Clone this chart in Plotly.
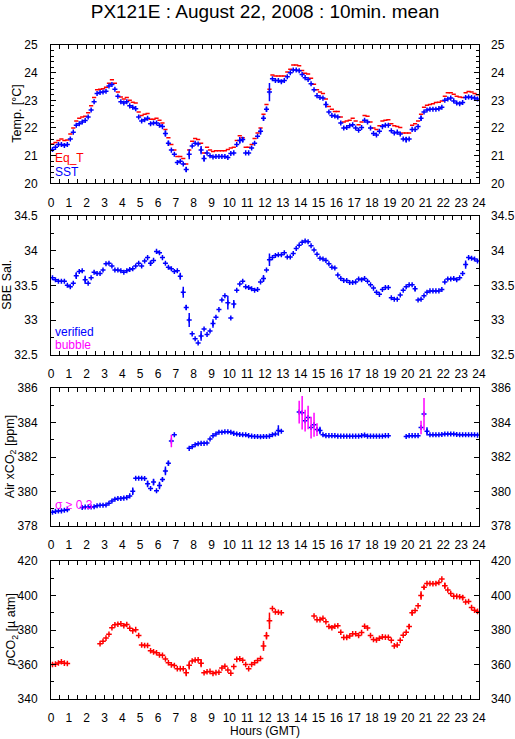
import numpy as np
import plotly.graph_objects as go

# 10-minute slots, 00:00 -> 24:00 GMT (centre of each slot)
hours = np.arange(144) / 6 + 1 / 12

# --- Temperature [degC], 6 values per hour ---
sst = [
    21.22, 21.30, 21.40, 21.40, 21.37, 21.40,
    21.60, 21.85, 22.10, 22.15, 22.22, 22.27,
    22.40, 22.65, 22.95, 23.25, 23.28, 23.30,
    23.33, 23.52, 23.57, 23.40, 23.15, 22.95,
    22.90, 22.95, 22.80, 22.75, 22.70, 22.40,
    22.25, 22.30, 22.35, 22.15, 22.18, 22.18,
    22.10, 22.05, 21.80, 21.45, 21.20, 21.05,
    20.75, 20.80, 20.70, 20.50, 21.05, 21.35,
    21.45, 21.42, 21.20, 20.90, 21.10, 21.00,
    20.95, 20.97, 20.97, 20.97, 20.97, 20.93,
    21.08, 21.10, 21.40, 21.55, 21.58, 21.10,
    21.10, 21.28, 21.45, 21.70, 21.88, 22.35,
    22.68, 23.30, 23.78, 23.72, 23.72, 23.67,
    23.72, 23.85, 24.00, 24.10, 24.10, 24.07,
    23.93, 23.82, 23.75, 23.60, 23.38, 23.17,
    23.10, 23.08, 22.85, 22.58, 22.45, 22.43,
    22.40, 22.18, 22.00, 22.02, 22.08, 22.12,
    22.00, 21.92, 22.02, 22.28, 22.22, 22.00,
    21.80, 21.75, 21.88, 22.05, 22.10, 22.10,
    21.90, 21.82, 21.85, 21.78, 21.60, 21.58,
    21.60, 21.95, 21.95, 22.05, 22.35, 22.58,
    22.65, 22.68, 22.68, 22.68, 22.70, 22.75,
    23.00, 23.05, 23.08, 22.98, 22.90, 22.88,
    22.92, 23.10, 23.12, 23.10, 23.08, 23.05,
]
eq_t = [
    21.42, 21.48, 21.55, 21.60, 21.55, 21.57,
    21.78, 22.00, 22.25, 22.35, 22.40, 22.42,
    22.55, 22.80, 23.10, 23.38, 23.40, 23.42,
    23.47, 23.62, 23.74, 23.62, 23.30, 23.12,
    23.05, 23.10, 23.00, 22.93, 22.90, 22.58,
    22.45, 22.50, 22.52, 22.32, 22.32, 22.35,
    22.28, 22.18, 21.95, 21.65, 21.40, 21.20,
    20.97, 20.97, 20.90, 20.70, 21.20, 21.52,
    21.62, 21.58, 21.45, 21.10, 21.30, 21.20,
    21.15, 21.18, 21.18, 21.18, 21.18, 21.22,
    21.28, 21.30, 21.55, 21.72, 21.65, 21.30,
    21.30, 21.40, 21.62, 21.82, 22.00, 22.50,
    22.85, 23.40, 23.92, 23.88, 23.88, 23.88,
    23.88, 24.02, 24.12, 24.28, 24.28, 24.25,
    24.08, 23.98, 23.95, 23.80, 23.58, 23.38,
    23.30, 23.25, 23.05, 22.78, 22.68, 22.60,
    22.60, 22.40, 22.22, 22.25, 22.28, 22.35,
    22.25, 22.12, 22.22, 22.45, 22.42, 22.22,
    22.00, 21.95, 22.08, 22.25, 22.28, 22.30,
    22.15, 22.08, 22.05, 22.02, 21.82, 21.82,
    21.82, 22.10, 22.15, 22.25, 22.50, 22.75,
    22.82, 22.85, 22.88, 22.92, 22.93, 22.98,
    23.15, 23.27, 23.27, 23.22, 23.15, 23.12,
    23.10, 23.27, 23.32, 23.30, 23.25, 23.20,
]
sst_err_slot = [38, 39, 45, 46, 50, 51, 63, 64, 70, 71, 72, 73, 92, 119, 124]
sst_err_val = [0.12, 0.10, 0.10, 0.18, 0.15, 0.12, 0.12, 0.10, 0.12, 0.10, 0.10, 0.33, 0.12, 0.10, 0.10]

# --- SBE salinity ---
sal = [
    33.61, 33.58, 33.56, 33.56, 33.56, 33.50,
    33.48, 33.53, 33.64, 33.70, 33.71, 33.58,
    33.53, 33.61, 33.69, 33.67, 33.67, 33.72,
    33.81, 33.82, 33.78, 33.72, 33.72, 33.71,
    33.69, 33.71, 33.73, 33.74, 33.78, 33.82,
    33.78, 33.85, 33.90, 33.82, 33.86, 33.99,
    33.97, 33.90, 33.82, 33.76, 33.74, 33.70,
    33.71, 33.63, 33.40, 33.18, 33.00, 32.80,
    32.73, 32.67, 32.77, 32.87, 32.79, 32.84,
    32.95, 33.04, 33.15, 33.29, 33.35, 33.25,
    33.03, 33.23, 33.43, 33.52, 33.56, 33.48,
    33.47, 33.45, 33.43, 33.44, 33.55, 33.60,
    33.72, 33.87, 33.90, 33.93, 33.94, 33.94,
    33.97, 33.91, 33.91, 33.96, 34.03, 34.08,
    34.12, 34.14, 34.13, 34.07, 34.01, 33.95,
    33.89, 33.88, 33.86, 33.81, 33.76, 33.75,
    33.65, 33.60, 33.57, 33.57, 33.54, 33.54,
    33.55, 33.59, 33.58, 33.60, 33.56, 33.51,
    33.46, 33.40, 33.37, 33.44, 33.47, 33.47,
    33.32, 33.30, 33.30, 33.36, 33.43, 33.48,
    33.51, 33.51, 33.45, 33.29, 33.30, 33.35,
    33.40, 33.42, 33.42, 33.42, 33.42, 33.44,
    33.55, 33.59, 33.59, 33.60, 33.58, 33.61,
    33.67, 33.80, 33.90, 33.89, 33.88, 33.85,
]
sal_err_slot = [8, 11, 33, 43, 44, 45, 46, 50, 54, 59, 61, 71, 73, 122, 139]
sal_err_val = [0.05, 0.06, 0.04, 0.05, 0.08, 0.04, 0.10, 0.07, 0.06, 0.10, 0.06, 0.05, 0.09, 0.04, 0.06]

# --- Air xCO2 [ppm] ---
N = None
xco2 = [
    378.80, 378.85, 378.87, 378.88, 378.92, 378.95,
    N, N, N, N, 379.08, 379.10,
    379.10, 379.10, 379.12, 379.18, 379.20, 379.20,
    379.22, 379.32, 379.45, 379.55, 379.60, 379.60,
    379.62, 379.65, 379.75, 380.02, 380.78, 380.78,
    380.78, 380.76, 380.45, 380.18, 380.55, 380.05,
    380.35, 380.70, 381.20, 381.65, 382.94, 383.30,
    N, N, N, N, 382.51, 382.60,
    382.72, 382.78, 382.80, 382.80, 382.82, 383.05,
    383.25, 383.35, 383.45, 383.45, 383.47, 383.47,
    383.45, 383.38, 383.35, 383.32, 383.30, 383.30,
    383.25, 383.22, 383.20, 383.20, 383.18, 383.20,
    383.20, 383.22, 383.30, 383.35, 383.55, 383.50,
    N, N, N, N, N, 384.62,
    384.58, 384.12, 384.30, 383.72, 383.88, 383.60,
    383.55, 383.30, 383.25, 383.25, 383.25, 383.25,
    383.22, 383.22, 383.22, 383.22, 383.22, 383.22,
    383.22, 383.22, 383.25, 383.28, 383.22, 383.22,
    383.22, 383.22, 383.22, 383.22, 383.25, 383.25,
    N, N, N, N, N, 383.20,
    383.25, 383.25, 383.25, 383.25, 383.72, 384.50,
    383.50, 383.30, 383.30, 383.30, 383.30, 383.32,
    383.35, 383.35, 383.35, 383.35, 383.32, 383.30,
    383.30, 383.30, 383.30, 383.30, 383.30, 383.28,
]
xco2_err_slot = [27, 32, 34, 36, 37, 38, 39, 76, 90, 126]
xco2_err_val = [0.22, 0.20, 0.20, 0.22, 0.10, 0.25, 0.15, 0.30, 0.22, 0.24]
# sigma >= 0.3 (drawn in magenta)
xco2_flag_slot = [40, 83, 84, 85, 86, 87, 88, 89, 124, 125]
xco2_flag_val = [0.36, 0.66, 0.97, 0.63, 0.68, 0.63, 0.70, 0.37, 0.39, 0.94]

# --- pCO2 [uatm] ---
pco2 = [
    360.0, 360.2, 360.9, 361.6, 360.8, 360.6,
    N, N, N, N, N, N,
    N, N, N, N, 372.1, 373.5,
    375.3, 377.5, 381.3, 383.0, 383.3, 383.6,
    382.5, 383.2, 381.0, 379.5, 380.2, 376.8,
    371.3, 371.0, 371.0, 368.0, 367.3, 366.8,
    365.5, 365.3, 363.2, 361.0, 359.8, 359.4,
    357.5, 357.6, 357.5, 355.2, 359.5, 362.0,
    362.6, 362.7, 360.8, 355.2, 355.8, 356.0,
    354.8, 355.3, 355.5, 358.0, 359.0, 356.8,
    355.0, 358.8, 363.0, 363.3, 362.5, 360.0,
    357.5, 360.0, 361.0, 362.3, 363.5, 370.8,
    376.7, 385.3, 392.5, 390.5, 390.3, 390.0,
    N, N, N, N, N, N,
    N, N, N, N, 388.1, 386.0,
    386.0, 386.8, 384.8, 382.0, 381.3, 382.2,
    382.5, 378.7, 375.7, 375.7, 376.5, 377.8,
    377.8, 376.8, 378.5, 382.2, 381.2, 376.8,
    374.5, 374.2, 375.2, 376.0, 375.8, 375.8,
    374.0, 370.8, 371.3, 374.0, 377.0, 378.7,
    382.0, 390.0, 391.3, 394.0, 400.0, 404.8,
    407.0, 407.0, 406.8, 407.0, 407.5, 409.5,
    405.7, 403.2, 401.2, 399.5, 399.5, 399.3,
    398.8, 396.2, 396.5, 393.0, 391.5, 390.8,
]
pco2_err_slot = [45, 46, 50, 71, 72, 73, 120, 121, 124, 125, 132, 138]
pco2_err_val = [2.0, 2.4, 2.4, 2.9, 2.2, 4.8, 1.5, 1.8, 2.5, 1.0, 1.8, 1.5]

x_ticks = list(range(0, 25))
y_ticks = [
    [20, 21, 22, 23, 24, 25],
    [32.5, 33, 33.5, 34, 34.5],
    [378, 380, 382, 384, 386],
    [340, 360, 380, 400, 420],
]
y_ticktext = [[f"{v:g}" for v in vals] for vals in y_ticks]

BLUE = "#0000ff"
RED = "#ff0000"
MAG = "#ff00ff"
FONT = "Liberation Sans, Arial, sans-serif"


def err_array(slots, vals):
    arr = np.zeros(144)
    arr[slots] = vals
    return arr


def cross_trace(y, color, err, xa, ya, symbol="cross-thin-open", size=3.6):
    return go.Scatter(
        x=hours, y=y, mode="markers", xaxis=xa, yaxis=ya, showlegend=False,
        marker=dict(symbol=symbol, size=size, color=color,
                    line=dict(color=color, width=1.5)),
        error_y=dict(type="data", array=err, visible=err is not None,
                     color=color, thickness=1.5, width=0),
        hoverinfo="skip",
    )


fig = go.Figure()

# panel 1
fig.add_trace(cross_trace(eq_t, RED, None, "x", "y", symbol="line-ew-open", size=3))
fig.add_trace(cross_trace(sst, BLUE, err_array(sst_err_slot, sst_err_val), "x", "y"))
# panel 2
fig.add_trace(cross_trace(sal, BLUE, err_array(sal_err_slot, sal_err_val), "x2", "y2"))
# panel 3
fig.add_trace(cross_trace(xco2, BLUE, err_array(xco2_err_slot, xco2_err_val), "x3", "y3"))
flag_y = [xco2[i] for i in xco2_flag_slot]
fig.add_trace(go.Scatter(
    x=hours[xco2_flag_slot], y=flag_y, mode="markers", xaxis="x3", yaxis="y3",
    showlegend=False, hoverinfo="skip",
    marker=dict(size=1, color=MAG),
    error_y=dict(type="data", array=xco2_flag_val, color=MAG, thickness=1.5, width=0),
))
# panel 4
fig.add_trace(cross_trace(pco2, RED, err_array(pco2_err_slot, pco2_err_val), "x4", "y4", size=4))

# right-hand axes carry the mirrored labels
for k in range(4):
    fig.add_trace(go.Scatter(x=[None], y=[None], xaxis="x" if k == 0 else f"x{k + 1}",
                             yaxis=f"y{k + 5}", showlegend=False, hoverinfo="skip"))

domains = [[0.7885, 1.0], [0.5265, 0.7385], [0.2645, 0.4751], [0.0, 0.211]]
y_ranges = [[20, 25], [32.5, 34.5], [378, 386], [340, 420]]
y_minor = [0.2, 0.25, 1, 10]

axis_common = dict(
    showline=True, linecolor="black", linewidth=1, mirror="allticks",
    ticks="inside", ticklen=5, tickcolor="black", tickwidth=1,
    showgrid=False, zeroline=False, tickfont=dict(size=12, color="black"),
    ticklabelstandoff=10, automargin=False,
)

layout = dict(
    width=515, height=739,
    margin=dict(l=51, r=36, t=45, b=40),
    paper_bgcolor="white", plot_bgcolor="white",
    font=dict(family=FONT, color="black", size=12),
    title=dict(text="PX121E : August 22, 2008 : 10min. mean", x=0.5, xref="paper",
               y=1 - 11 / 739, yanchor="middle", font=dict(size=19), automargin=False),
    showlegend=False,
)

for k in range(4):
    xname = "xaxis" if k == 0 else f"xaxis{k + 1}"
    yname = "yaxis" if k == 0 else f"yaxis{k + 1}"
    yid = "y" if k == 0 else f"y{k + 1}"
    xid = "x" if k == 0 else f"x{k + 1}"
    layout[xname] = dict(
        axis_common, domain=[0, 1], anchor=yid, range=[0, 24],
        tickvals=x_ticks, ticktext=[str(v) for v in x_ticks], ticklen=4,
        minor=dict(dtick=0.5, tick0=0, ticks="inside", ticklen=4, tickcolor="black"),
        ticklabelstandoff=8,
    )
    layout[yname] = dict(
        axis_common, domain=domains[k], anchor=xid, range=y_ranges[k],
        tickvals=y_ticks[k], ticktext=y_ticktext[k],
        minor=dict(dtick=y_minor[k], tick0=0, ticks="inside", ticklen=3, tickcolor="black"),
    )
    layout[f"yaxis{k + 5}"] = dict(
        overlaying=yid, anchor=xid, side="right", range=y_ranges[k],
        tickvals=y_ticks[k], ticktext=y_ticktext[k],
        showline=False, ticks="", showgrid=False, zeroline=False,
        tickfont=dict(size=12, color="black"), ticklabelstandoff=11, automargin=False,
    )

fig.update_layout(**layout)


def px_to_paper(y_px):
    return (699 - y_px) / 654


y_titles = ["Temp. [°C]", "SBE Sal.", "Air xCO<sub>2</sub> [ppm]", "<i>p</i>CO<sub>2</sub> [µ atm]"]
y_title_x = [17.5, 7.5, 11, 12.5]
for k in range(4):
    fig.add_annotation(
        text=y_titles[k], xref="paper", yref="paper", x=0, xshift=y_title_x[k] - 51,
        y=sum(domains[k]) / 2, textangle=-90, showarrow=False,
        font=dict(size=12.5), xanchor="center", yanchor="middle",
    )

legend_items = [
    ("Eq_T", RED, 158), ("SST", BLUE, 172),
    ("verified", BLUE, 332), ("bubble", MAG, 345),
    ("σ ≥ 0.3", MAG, 505),
]
for text, color, ypx in legend_items:
    fig.add_annotation(
        text=text, xref="paper", yref="paper", x=0, xshift=2, y=px_to_paper(ypx),
        xanchor="left", yanchor="middle", showarrow=False,
        font=dict(size=12, color=color),
    )

fig.add_annotation(
    text="Hours (GMT)", xref="paper", yref="paper", x=0.5, y=px_to_paper(731),
    xanchor="center", yanchor="middle", showarrow=False, font=dict(size=12),
)

fig.write_html(
    "out.html",
    config={"displayModeBar": False},
    post_script="document.body.style.margin='0px';",
)
